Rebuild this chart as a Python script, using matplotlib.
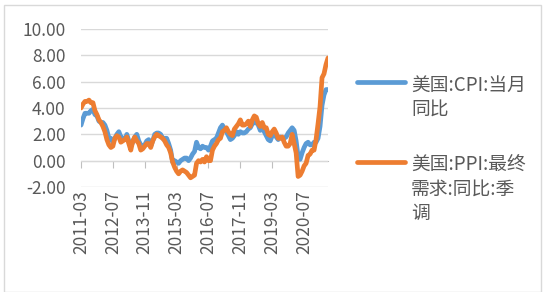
import matplotlib
matplotlib.use("Agg")
import matplotlib.pyplot as plt
from matplotlib.lines import Line2D
from matplotlib.patches import Rectangle

plt.rcParams['font.family'] = ['Noto Sans CJK SC', 'DejaVu Sans']

# monthly data, 2011-03 .. 2021-07
start_year, start_month = 2011, 3

cpi = [2.7, 3.2, 3.6, 3.6, 3.6, 3.8, 3.9, 3.5, 3.4, 3.0,
       2.9, 2.9, 2.7, 2.3, 1.7, 1.7, 1.4, 1.7, 2.0, 2.2, 1.8, 1.7,
       1.6, 2.0, 1.5, 1.1, 1.4, 1.8, 2.0, 1.5, 1.2, 1.0, 1.2, 1.5,
       1.6, 1.1, 1.5, 2.0, 2.1, 2.1, 2.0, 1.7, 1.7, 1.7, 1.3, 0.8,
       -0.1, 0.0, -0.1, -0.2, 0.0, 0.1, 0.2, 0.2, 0.0, 0.2, 0.5, 0.7,
       1.4, 1.0, 0.9, 1.1, 1.0, 1.0, 0.8, 1.1, 1.5, 1.6, 1.7, 2.1,
       2.5, 2.7, 2.4, 2.2, 1.9, 1.6, 1.7, 1.9, 2.2, 2.0, 2.2, 2.1,
       2.1, 2.2, 2.4, 2.5, 2.8, 2.9, 2.9, 2.7, 2.3, 2.5, 2.2, 1.9,
       1.6, 1.5, 1.9, 2.0, 1.8, 1.6, 1.8, 1.7, 1.7, 1.8, 2.1, 2.3,
       2.5, 2.3, 1.5, 0.3, 0.1, 0.6, 1.0, 1.3, 1.4, 1.2, 1.2, 1.4,
       1.4, 1.7, 2.6, 4.2, 5.0, 5.4, 5.4]

ppi = [4.0, 4.3, 4.5, 4.5, 4.6, 4.4, 4.4, 3.8, 3.5, 3.1,
       2.9, 2.6, 2.2, 1.6, 1.2, 1.0, 1.1, 1.7, 1.9, 1.8, 1.4, 1.5,
       1.6, 1.8, 1.3, 0.8, 1.5, 1.8, 1.5, 1.3, 0.8, 0.9, 1.1, 1.3,
       1.3, 1.0, 1.5, 1.8, 2.0, 1.9, 1.8, 1.7, 1.5, 1.2, 1.0, 0.6,
       -0.1, -0.5, -0.8, -1.0, -0.8, -0.7, -0.8, -0.9, -1.1, -1.3, -1.2, -1.1,
       -0.2, 0.0, -0.1, 0.1, -0.1, 0.3, 0.0, 0.0, 0.8, 1.1, 1.3, 1.6,
       1.7, 2.2, 2.3, 2.5, 2.2, 2.0, 1.9, 2.4, 2.6, 2.8, 3.1, 2.7,
       2.7, 2.8, 3.0, 2.6, 3.1, 3.4, 3.3, 2.8, 2.6, 2.9, 2.5, 2.5,
       2.0, 1.9, 2.2, 2.4, 2.1, 1.7, 1.7, 1.8, 1.4, 1.1, 1.1, 1.3,
       2.0, 1.3, 0.6, -1.2, -1.1, -0.8, -0.4, -0.2, 0.4, 0.5, 0.8, 0.8,
       1.6, 2.8, 4.1, 6.3, 6.6, 7.3, 7.8]

cpi_label = "美国:CPI:当月\n同比"
ppi_label = "美国:PPI:最终\n需求:同比:季\n调"

blue = "#5B9BD5"
orange = "#ED7D31"
text_color = "#595959"
grid_color = "#D9D9D9"

n = len(cpi)
x = list(range(n))
labels = []
for i in x:
    m = start_month - 1 + i
    labels.append(f"{start_year + m // 12}-{m % 12 + 1:02d}")
tick_pos = list(range(0, n, 16))

fig = plt.figure(figsize=(5.5, 2.92), dpi=100)
ax = fig.add_axes([81 / 550, 1 - 187 / 292, 247 / 550, 158 / 292])

ax.plot(x, cpi, color=blue, lw=3.4, solid_capstyle='round', zorder=3)
ax.plot(x, ppi, color=orange, lw=3.4, solid_capstyle='round', zorder=4)

ax.set_xlim(0, n - 1)
ax.set_ylim(-2, 10)
ax.set_yticks(range(-2, 11, 2))
ax.set_yticklabels([f"{v:.2f}" for v in range(-2, 11, 2)])
ax.grid(axis='y', color=grid_color, lw=1)
ax.set_axisbelow(True)
for s in ax.spines.values():
    s.set_visible(False)
ax.tick_params(axis='y', length=0, labelsize=12.5, labelcolor=text_color, pad=11)

ax.set_xticks(tick_pos)
ax.set_xticklabels([labels[i] for i in tick_pos], rotation=90)
ax.tick_params(axis='x', length=0, labelsize=12.5, labelcolor=text_color, pad=2)

# zero line with tick marks
sec = ax.secondary_xaxis(2 / 12)
sec.set_xticks(tick_pos)
sec.set_xticklabels([])
sec.spines['bottom'].set_color("#BFBFBF")
sec.tick_params(axis='x', direction='out', length=5, color="#BFBFBF")

# legend
fig.add_artist(Line2D([357 / 550, 405 / 550], [1 - 82 / 292] * 2,
                      color=blue, lw=3.4, solid_capstyle='round'))
fig.add_artist(Line2D([357 / 550, 405 / 550], [1 - 162 / 292] * 2,
                      color=orange, lw=3.4, solid_capstyle='round'))
fig.text(411 / 550, 1 - 75 / 292, cpi_label, va='top', ha='left',
         fontsize=13.5, color=text_color, linespacing=1.2)
fig.text(411 / 550, 1 - 155 / 292, ppi_label, va='top', ha='left',
         fontsize=13.5, color=text_color, linespacing=1.2)

# chart border
fig.add_artist(Rectangle((4 / 550, 0), 537 / 550, 1 - 5 / 292,
                         transform=fig.transFigure, fill=False,
                         edgecolor=grid_color, lw=1))

fig.savefig("out.png", dpi=100)
